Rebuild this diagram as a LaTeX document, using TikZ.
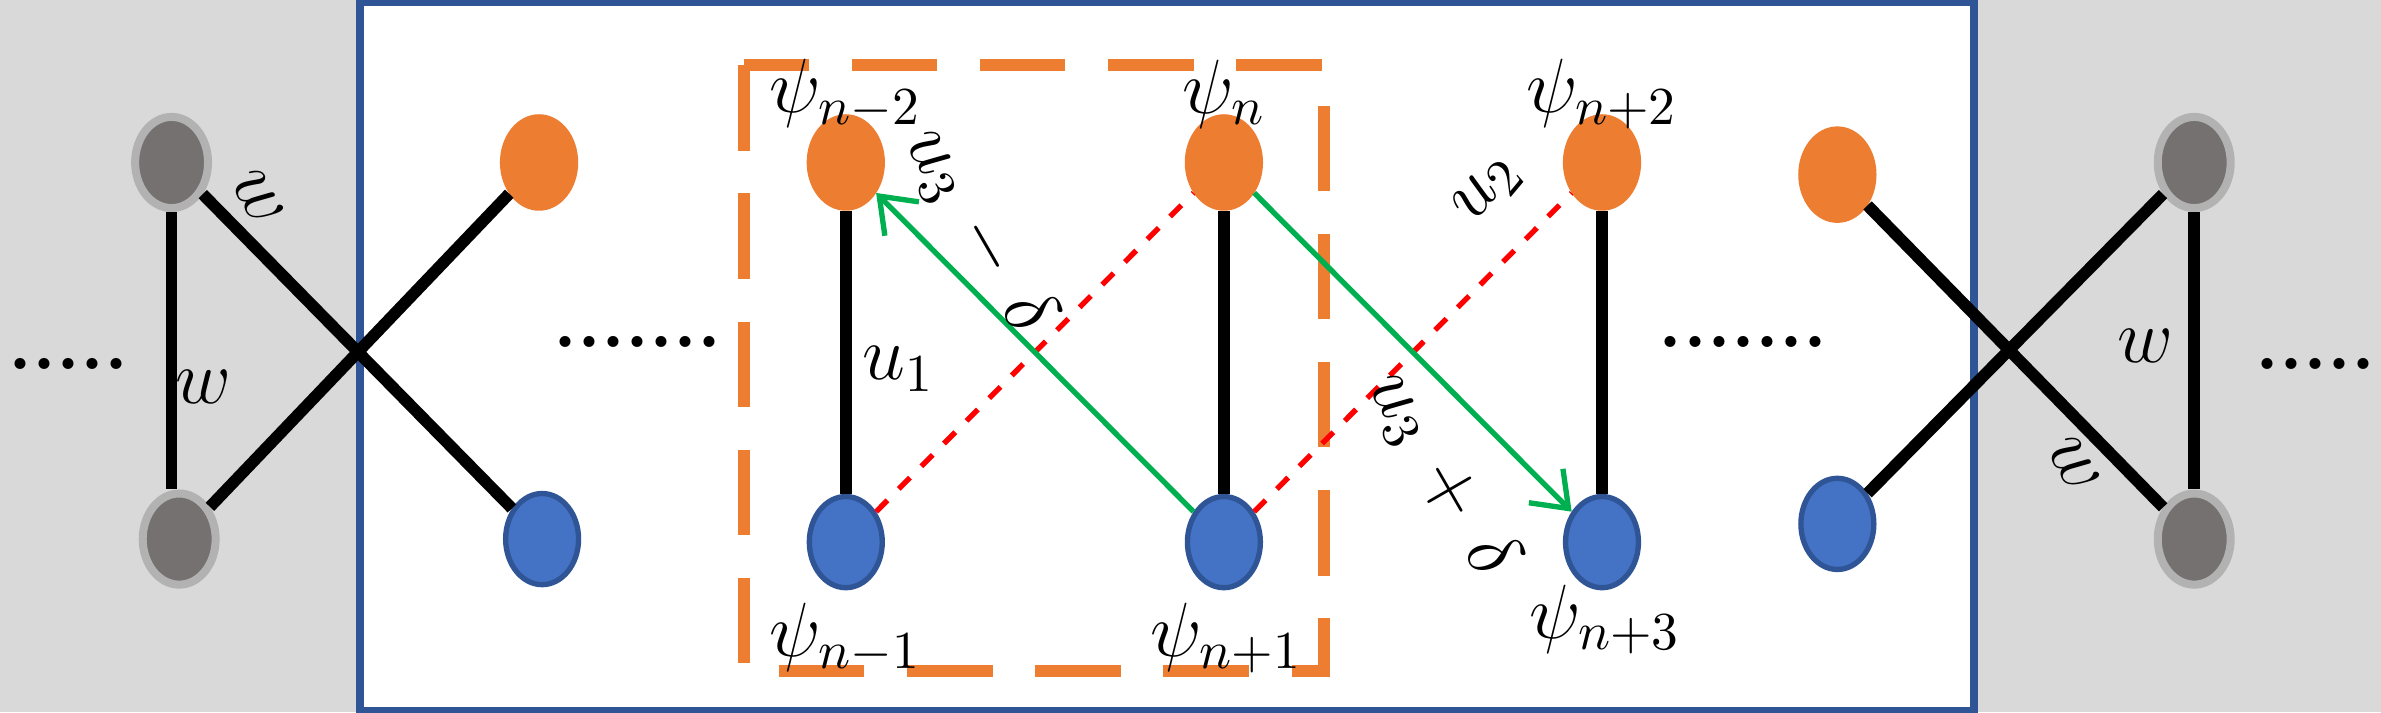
\documentclass[tikz,border=0pt]{standalone}
\usepackage{amsmath}
\usetikzlibrary{arrows.meta}
\usetikzlibrary{shapes.geometric}
\definecolor{orng}{RGB}{237,125,49}
\definecolor{blu}{RGB}{68,114,196}
\definecolor{bluedge}{RGB}{47,85,151}
\definecolor{gry}{RGB}{118,113,113}
\definecolor{grn}{RGB}{0,176,80}
\tikzset{site/.style={ellipse, minimum width=0.48cm, minimum height=0.6cm, inner sep=0pt, line width=1pt},
osite/.style={site, fill=orng, draw=orng},
bsite/.style={site, fill=blu, draw=bluedge},
gsite/.style={site, fill=gry, draw=gray!60, line width=1.5pt},
bond/.style={line width=2.2pt},
lab/.style={font=\Large}}

\begin{document}
\begin{tikzpicture}[x=0.01cm,y=-0.01cm]

\useasboundingbox (0,0) rectangle (1568,469);
\fill[gray!30] (0,0) rectangle (236,469);
\fill[gray!30] (1300,0) rectangle (1568,469);
\fill[white] (236,0) rectangle (1300,469);
\draw[bluedge, line width=1.5pt] (237,1) rectangle (1300,468);
\draw[orng, line width=2.2pt, dash pattern=on 16pt off 8pt] (490,43) rectangle (872,442);

\node[gsite] (g1) at (113,107) {};
\node[gsite] (g2) at (118,355) {};
\node[gsite] (g3) at (1445,107) {};
\node[gsite] (g4) at (1445,355) {};

\node[osite] (o0) at (355,107) {};
\node[bsite] (b0) at (357,355) {};
\node[osite] (o1) at (557,107) {};
\node[bsite] (b1) at (557,357) {};
\node[osite] (o2) at (806,107) {};
\node[bsite] (b2) at (806,357) {};
\node[osite] (o3) at (1055,107) {};
\node[bsite] (b3) at (1055,357) {};
\node[osite] (o4) at (1210,115) {};
\node[bsite] (b4) at (1210,345) {};

\foreach \i in {1,2,3}
    \draw[bond] (o\i) -- (b\i);
\draw[bond] (g1) -- (b0);
\draw[bond] (g2) -- (o0);
\draw[bond] (g1) -- (g1 |- g2.north);
\draw[bond] (g3) -- (g4);
\draw[bond] (o4) -- (g4);
\draw[bond] (b4) -- (g3);

\draw[red, line width=1pt, dashed] (b1) -- (o2);
\draw[red, line width=1pt, dashed] (b2) -- (o3);
\draw[grn, line width=1pt, -{Straight Barb[length=6pt,width=9pt]}] (b2) -- (o1);
\draw[grn, line width=1pt, -{Straight Barb[length=6pt,width=9pt]}] (o2) -- (b3);

\node[lab] (l1) at (557,62) {$\psi_{n-2}$};
\node[lab] (l2) at (806,62) {$\psi_{n}$};
\node[lab] (l3) at (1055,62) {$\psi_{n+2}$};
\node[lab] (l4) at (557,420) {$\psi_{n-1}$};
\node[lab] (l5) at (808,420) {$\psi_{n+1}$};
\node[lab] (l6) at (1057,408) {$\psi_{n+3}$};

\node[lab] (u1) at (592,243) {$u_1$};
\node[lab, rotate=-60, inner sep=0pt] (u3m) at (645,152) {$u_3\,-\,\delta$};
\node[lab, rotate=-60, inner sep=0pt] (u3p) at (950,312) {$u_3\,+\,\delta$};
\node[lab, rotate=50] (u2) at (980,125) {$u_2$};
\node[lab] (w1) at (134,255) {$w$};
\node[lab, rotate=-60] (w2) at (170,130) {$w$};
\node[lab] (w3) at (1413,228) {$w$};
\node[lab, rotate=-60] (w4) at (1366,306) {$w$};

\node[font=\bfseries\Large] (d1) at (45,240) {.....};
\node[font=\bfseries\Large] (d2) at (420,225) {.......};
\node[font=\bfseries\Large] (d3) at (1148,225) {.......};
\node[font=\bfseries\Large] (d4) at (1525,240) {.....};

\end{tikzpicture}
\end{document}
